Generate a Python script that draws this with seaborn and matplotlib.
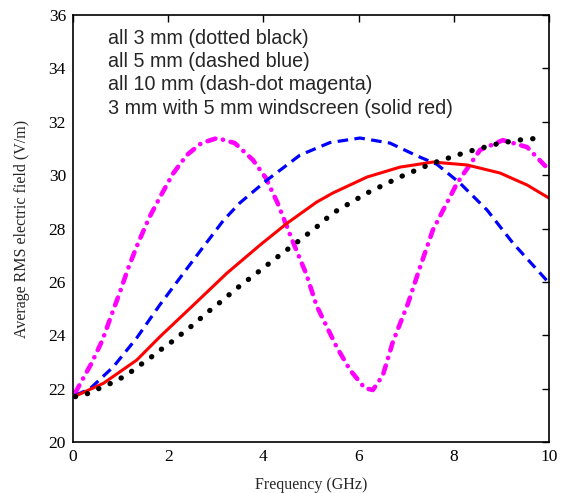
import matplotlib
matplotlib.use("Agg")
import matplotlib.pyplot as plt
import seaborn as sns
import pandas as pd

# ---- data ----
x_black = [0.05, 0.32, 0.5, 0.71, 0.92, 1.11, 1.27, 1.44, 1.63, 1.81, 1.99, 2.16, 2.34, 2.51, 2.84, 3.02, 3.45, 3.89, 4.33, 4.77, 5.12, 5.46, 6.18, 6.87, 7.56, 8.28, 8.97, 9.4, 9.81]
y_black = [21.7, 21.82, 21.97, 22.12, 22.32, 22.48, 22.7, 22.92, 23.16, 23.42, 23.63, 23.88, 24.13, 24.37, 24.88, 25.13, 25.77, 26.37, 26.98, 27.57, 28.06, 28.58, 29.33, 29.93, 30.45, 30.87, 31.2, 31.32, 31.39]

x_blue = [0.05, 0.36, 0.85, 1.34, 1.83, 2.53, 3.16, 3.5, 4.08, 4.77, 5.4, 6.03, 6.66, 7.23, 7.65, 8.13, 8.7, 9.24, 9.98]
y_blue = [21.75, 22.0, 22.82, 23.9, 25.15, 26.82, 28.3, 28.95, 29.82, 30.75, 31.22, 31.39, 31.2, 30.72, 30.4, 29.7, 28.69, 27.46, 26.0]

x_magenta = [0.05, 0.39, 0.62, 0.81, 0.99, 1.16, 1.37, 1.6, 1.83, 2.1, 2.39, 2.7, 3.03, 3.4, 3.78, 4.05, 4.3, 4.63, 4.9, 5.12, 5.54, 5.82, 6.13, 6.3, 6.51, 6.72, 7.04, 7.3, 7.56, 8.07, 8.55, 9.03, 9.54, 9.96]
y_magenta = [21.85, 22.95, 23.82, 24.76, 25.63, 26.51, 27.46, 28.4, 29.18, 30.05, 30.75, 31.2, 31.39, 31.2, 30.57, 29.9, 28.95, 27.46, 26.3, 25.1, 23.56, 22.7, 22.02, 21.95, 22.5, 23.75, 25.2, 26.6, 27.94, 29.7, 30.94, 31.31, 31.05, 30.27]

x_red = [0.05, 0.64, 1.34, 1.83, 2.53, 3.23, 3.93, 4.5, 5.12, 5.46, 6.18, 6.87, 7.56, 8.28, 8.97, 9.54, 10.0]
y_red = [21.72, 22.2, 23.07, 23.95, 25.13, 26.32, 27.38, 28.2, 28.99, 29.33, 29.93, 30.3, 30.49, 30.38, 30.08, 29.63, 29.14]

legend_lines = ["all 3 mm (dotted black)", "all 5 mm (dashed blue)",
                "all 10 mm (dash-dot magenta)", "3 mm with 5 mm windscreen (solid red)"]
x_ticks = [0, 2, 4, 6, 8, 10]
y_ticks = [20, 22, 24, 26, 28, 30, 32, 34, 36]

sns.set_style("white")
plt.rcParams['font.family'] = ['Liberation Serif', 'DejaVu Serif']

fig = plt.figure(figsize=(5.61, 4.93), dpi=100)
ax = fig.add_axes([0.130, 0.1034, 0.8486, 0.8662])

df_m = pd.DataFrame({"x": x_magenta, "y": y_magenta})
df_b = pd.DataFrame({"x": x_blue, "y": y_blue})
df_r = pd.DataFrame({"x": x_red, "y": y_red})
df_k = pd.DataFrame({"x": x_black, "y": y_black})

sns.lineplot(data=df_m, x="x", y="y", ax=ax, color="#FF00FF", lw=3.3, estimator=None, sort=False)
sns.lineplot(data=df_b, x="x", y="y", ax=ax, color="#0000FF", lw=2.3, estimator=None, sort=False)
sns.lineplot(data=df_r, x="x", y="y", ax=ax, color="#FF0000", lw=2.2, estimator=None, sort=False)
sns.lineplot(data=df_k, x="x", y="y", ax=ax, color="black", lw=3.8, estimator=None, sort=False)

lines = ax.get_lines()
lines[0].set_dashes([1.8, 1.7, 0.05, 1.7])
lines[0].set_dash_capstyle("round")
lines[1].set_dashes([3.3, 2.0])
lines[1].set_dash_capstyle("butt")
lines[3].set_dashes([0.05, 2.3])
lines[3].set_dash_capstyle("round")

ax.set_xlim(0, 10)
ax.set_ylim(20, 36)
ax.set_xticks(x_ticks)
ax.set_yticks(y_ticks)
ax.tick_params(direction="in", top=True, right=True, length=5, width=1,
               labelsize=12.5, pad=5, colors="black")
for s in ax.spines.values():
    s.set_color("black")
    s.set_linewidth(1.2)

ax.set_xlabel("Frequency (GHz)", fontsize=11.5, labelpad=9)
ax.set_ylabel("Average RMS electric field (V/m)", fontsize=11.5, labelpad=13)

for i, t in enumerate(legend_lines):
    ax.text(0.074, 0.968 - i * 0.0546, t, transform=ax.transAxes, fontsize=14.2,
            family=["Liberation Sans", "DejaVu Sans"], va="top", ha="left")

fig.savefig("out.png", dpi=100)
